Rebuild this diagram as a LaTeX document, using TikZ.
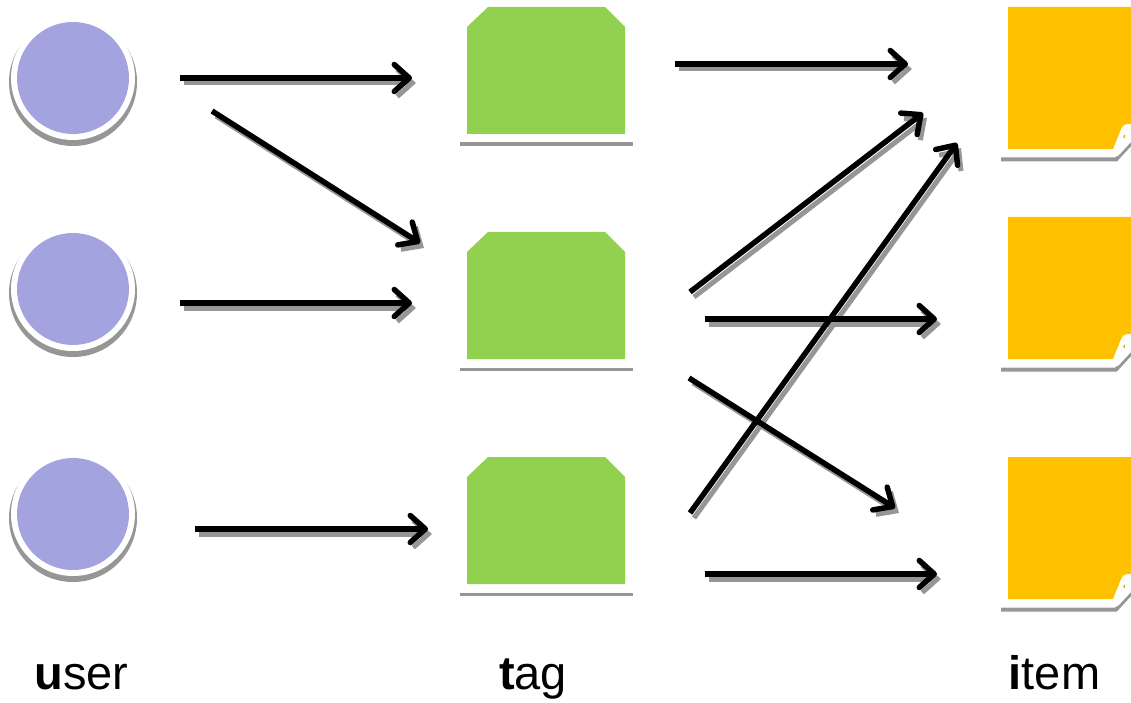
\documentclass[tikz,border=0pt]{standalone}
\usepackage{fontspec}
\setmainfont{Liberation Sans}
\usetikzlibrary{arrows.meta}
\definecolor{userfill}{RGB}{163,163,224}
\definecolor{tagfill}{RGB}{146,208,80}
\definecolor{itemfill}{RGB}{255,192,0}
\definecolor{dropgray}{RGB}{150,150,150}
\tikzset{
  link/.style={line width=5.5pt, draw=black, -{Straight Barb[length=15pt,width=27pt,round]}},
  linkshadow/.style={line width=5pt, draw=dropgray, -{Straight Barb[length=15pt,width=27pt]},
    transform canvas={xshift=4pt,yshift=-5pt}},
  usernode/.style={circle, fill=userfill, minimum size=112pt, inner sep=0pt, outer sep=0pt},
  tagbox/.style={rectangle, minimum width=158pt, minimum height=127pt, inner sep=0pt, outer sep=0pt},
  caption/.style={anchor=base, font=\fontsize{47}{55}\selectfont, inner sep=0pt},
}
\begin{document}
\begin{tikzpicture}[x=1pt,y=-1pt]
\useasboundingbox (0,0) rectangle (1131,703);
\clip (0,0) rectangle (1131,703);

% users: purple discs on a white rim with a soft drop shadow
\foreach \n/\cy in {1/78,2/289,3/514}{
  \fill[dropgray] (73,\cy+4) circle (64);
  \fill[white] (73,\cy) circle (62);
  \node[usernode] (u\n) at (73,\cy) {};
}

% tags: green boxes with chamfered top corners
\foreach \n/\cy in {1/70.5,2/295.5,3/520.5}{
  \fill[dropgray] (460,\cy+72) rectangle (633,\cy+75.5);
  \node[tagbox] (t\n) at (546,\cy) {};
  \fill[tagfill] (t\n.south west) -- ([yshift=-20pt]t\n.north west)
    -- ([xshift=21pt]t\n.north west) -- ([xshift=-20pt]t\n.north east)
    -- ([yshift=-20pt]t\n.north east) -- (t\n.south east) -- cycle;
}

% items: yellow cards in a white frame with a curled corner
\foreach \n/\ty in {1/7,2/217,3/457}{
  \begin{scope}[shift={(0,\ty)}]
    \draw[dropgray, line width=4pt] (1001,152.5) -- (1116,152.5) -- (1134,133);
    \fill[white, rounded corners=2pt] (1000,-6) -- (1145,-6) -- (1145,120)
      -- (1117,150) -- (1000,150) -- cycle;
    \fill[itemfill] (1008,0) -- (1145,0) -- (1145,116)
      -- (1127,117) to[out=190,in=80] (1121,122) -- (1113,142) -- (1008,142) -- cycle;
    \draw[itemfill!85!black, line width=1.2pt] (1124.5,128) -- (1124,131);
    \coordinate (i\n) at (1008,71);
  \end{scope}
}

% arrow end points
\coordinate (u1r) at (180,78);   \coordinate (t1l) at (412,78);
\coordinate (u1d) at (212,111);  \coordinate (t2a) at (420,243);
\coordinate (u2r) at (180,303);  \coordinate (t2l) at (412,303);
\coordinate (u3r) at (195,529);  \coordinate (t3l) at (428,529);
\coordinate (t1r) at (675,64);   \coordinate (i1a) at (908,64);
\coordinate (t2u) at (690,292);  \coordinate (i1b) at (923,113);
\coordinate (t3u) at (690,513);  \coordinate (i1c) at (957,143);
\coordinate (t2r) at (705,319);  \coordinate (i2a) at (937,319);
\coordinate (t2d) at (689,378);  \coordinate (i3a) at (895,508);
\coordinate (t3r) at (705,574);  \coordinate (i3b) at (937,574);

\foreach \a/\b in {u1r/t1l,u1d/t2a,u2r/t2l,u3r/t3l,t1r/i1a,t2u/i1b,t3u/i1c,t2r/i2a,t2d/i3a,t3r/i3b}
  \draw[linkshadow] (\a) -- (\b);
\foreach \a/\b in {u1r/t1l,u1d/t2a,u2r/t2l,u3r/t3l,t1r/i1a,t2u/i1b,t3u/i1c,t2r/i2a,t2d/i3a,t3r/i3b}
  \draw[link] (\a) -- (\b);

% column captions
\node[caption] (lu) at (81.5,689) {\textbf{u}ser};
\node[caption] (lt) at (533,689) {\textbf{t}ag};
\node[caption] (li) at (1054.5,689) {\textbf{i}tem};
\end{tikzpicture}
\end{document}
